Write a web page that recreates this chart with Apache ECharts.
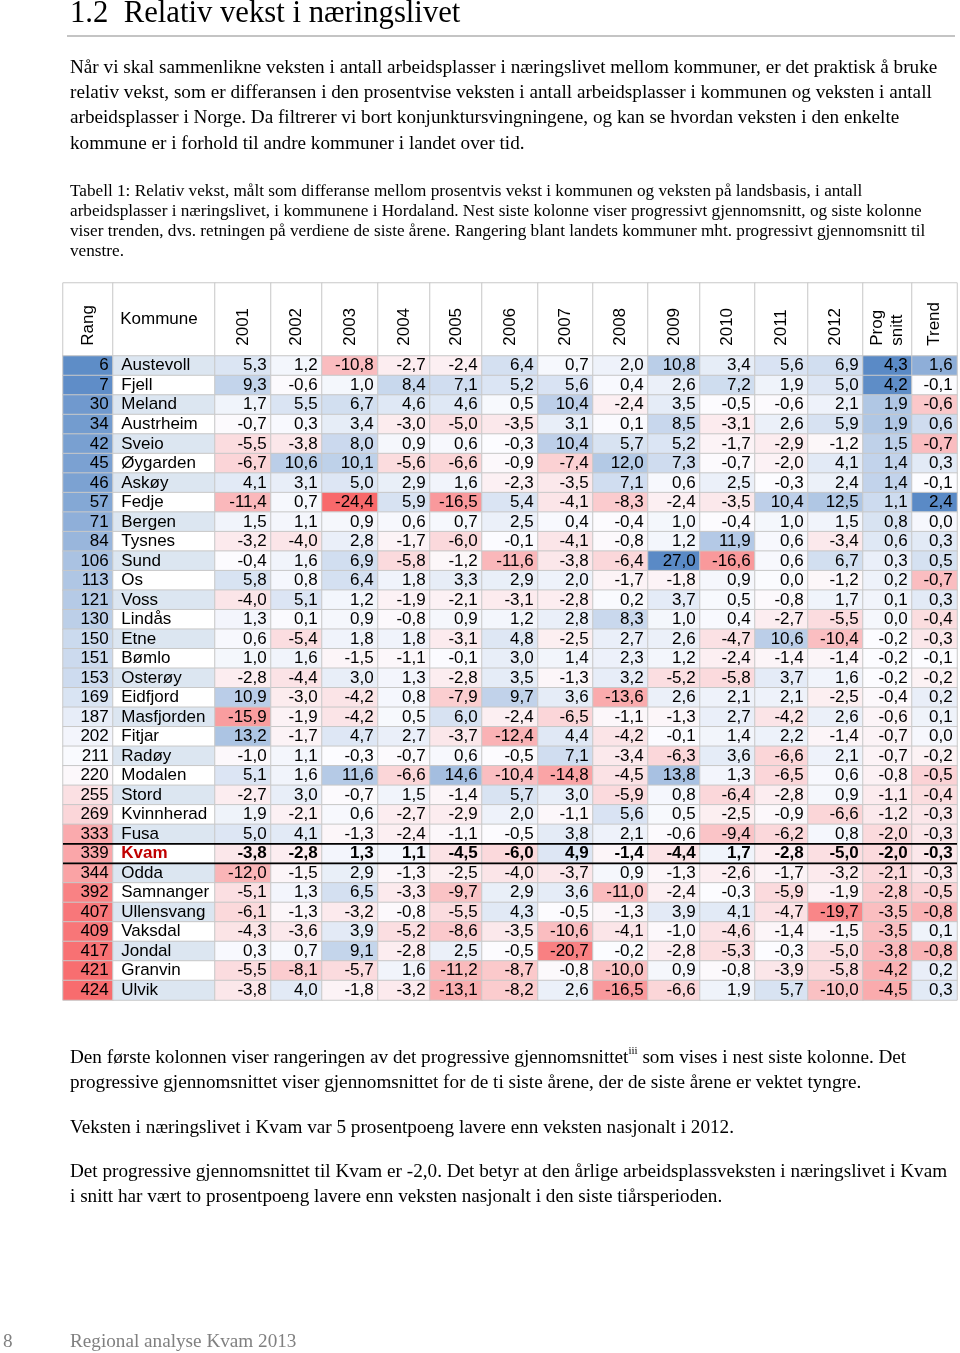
<!DOCTYPE html>
<html><head><meta charset="utf-8">
<script src="https://cdn.jsdelivr.net/npm/echarts@6/dist/echarts.min.js"></script>
<style>html,body{margin:0;padding:0;background:#fff}#c{width:960px;height:1353px}</style>
</head><body><div id="c"></div>
<script>
// ---------------- DATA ----------------
const kommuner = ['Austevoll','Fjell','Meland','Austrheim','Sveio','Øygarden','Askøy','Fedje','Bergen','Tysnes','Sund','Os','Voss','Lindås','Etne','Bømlo','Osterøy','Eidfjord','Masfjorden','Fitjar','Radøy','Modalen','Stord','Kvinnherad','Fusa','Kvam','Odda','Samnanger','Ullensvang','Vaksdal','Jondal','Granvin','Ulvik'];
const rang = [6,7,30,34,42,45,46,57,71,84,106,113,121,130,150,151,153,169,187,202,211,220,255,269,333,339,344,392,407,409,417,421,424];
const years = ['2001','2002','2003','2004','2005','2006','2007','2008','2009','2010','2011','2012'];
const v2001 = [5.3,9.3,1.7,-0.7,-5.5,-6.7,4.1,-11.4,1.5,-3.2,-0.4,5.8,-4.0,1.3,0.6,1.0,-2.8,10.9,-15.9,13.2,-1.0,5.1,-2.7,1.9,5.0,-3.8,-12.0,-5.1,-6.1,-4.3,0.3,-5.5,-3.8];
const v2002 = [1.2,-0.6,5.5,0.3,-3.8,10.6,3.1,0.7,1.1,-4.0,1.6,0.8,5.1,0.1,-5.4,1.6,-4.4,-3.0,-1.9,-1.7,1.1,1.6,3.0,-2.1,4.1,-2.8,-1.5,1.3,-1.3,-3.6,0.7,-8.1,4.0];
const v2003 = [-10.8,1.0,6.7,3.4,8.0,10.1,5.0,-24.4,0.9,2.8,6.9,6.4,1.2,0.9,1.8,-1.5,3.0,-4.2,-4.2,4.7,-0.3,11.6,-0.7,0.6,-1.3,1.3,2.9,6.5,-3.2,3.9,9.1,-5.7,-1.8];
const v2004 = [-2.7,8.4,4.6,-3.0,0.9,-5.6,2.9,5.9,0.6,-1.7,-5.8,1.8,-1.9,-0.8,1.8,-1.1,1.3,0.8,0.5,2.7,-0.7,-6.6,1.5,-2.7,-2.4,1.1,-1.3,-3.3,-0.8,-5.2,-2.8,1.6,-3.2];
const v2005 = [-2.4,7.1,4.6,-5.0,0.6,-6.6,1.6,-16.5,0.7,-6.0,-1.2,3.3,-2.1,0.9,-3.1,-0.1,-2.8,-7.9,6.0,-3.7,0.6,14.6,-1.4,-2.9,-1.1,-4.5,-2.5,-9.7,-5.5,-8.6,2.5,-11.2,-13.1];
const v2006 = [6.4,5.2,0.5,-3.5,-0.3,-0.9,-2.3,5.4,2.5,-0.1,-11.6,2.9,-3.1,1.2,4.8,3.0,3.5,9.7,-2.4,-12.4,-0.5,-10.4,5.7,2.0,-0.5,-6.0,-4.0,2.9,4.3,-3.5,-0.5,-8.7,-8.2];
const v2007 = [0.7,5.6,10.4,3.1,10.4,-7.4,-3.5,-4.1,0.4,-4.1,-3.8,2.0,-2.8,2.8,-2.5,1.4,-1.3,3.6,-6.5,4.4,7.1,-14.8,3.0,-1.1,3.8,4.9,-3.7,3.6,-0.5,-10.6,-20.7,-0.8,2.6];
const v2008 = [2.0,0.4,-2.4,0.1,5.7,12.0,7.1,-8.3,-0.4,-0.8,-6.4,-1.7,0.2,8.3,2.7,2.3,3.2,-13.6,-1.1,-4.2,-3.4,-4.5,-5.9,5.6,2.1,-1.4,0.9,-11.0,-1.3,-4.1,-0.2,-10.0,-16.5];
const v2009 = [10.8,2.6,3.5,8.5,5.2,7.3,0.6,-2.4,1.0,1.2,27.0,-1.8,3.7,1.0,2.6,1.2,-5.2,2.6,-1.3,-0.1,-6.3,13.8,0.8,0.5,-0.6,-4.4,-1.3,-2.4,3.9,-1.0,-2.8,0.9,-6.6];
const v2010 = [3.4,7.2,-0.5,-3.1,-1.7,-0.7,2.5,-3.5,-0.4,11.9,-16.6,0.9,0.5,0.4,-4.7,-2.4,-5.8,2.1,2.7,1.4,3.6,1.3,-6.4,-2.5,-9.4,1.7,-2.6,-0.3,4.1,-4.6,-5.3,-0.8,1.9];
const v2011 = [5.6,1.9,-0.6,2.6,-2.9,-2.0,-0.3,10.4,1.0,0.6,0.6,0.0,-0.8,-2.7,10.6,-1.4,3.7,2.1,-4.2,2.2,-6.6,-6.5,-2.8,-0.9,-6.2,-2.8,-1.7,-5.9,-4.7,-1.4,-0.3,-3.9,5.7];
const v2012 = [6.9,5.0,2.1,5.9,-1.2,4.1,2.4,12.5,1.5,-3.4,6.7,-1.2,1.7,-5.5,-10.4,-1.4,1.6,-2.5,2.6,-1.4,2.1,0.6,0.9,-6.6,0.8,-5.0,-3.2,-1.9,-19.7,-1.5,-5.0,-5.8,-10.0];
const progSnitt = [4.3,4.2,1.9,1.9,1.5,1.4,1.4,1.1,0.8,0.6,0.3,0.2,0.1,0.0,-0.2,-0.2,-0.2,-0.4,-0.6,-0.7,-0.7,-0.8,-1.1,-1.2,-2.0,-2.0,-2.1,-2.8,-3.5,-3.5,-3.8,-4.2,-4.5];
const trend = [1.6,-0.1,-0.6,0.6,-0.7,0.3,-0.1,2.4,0.0,0.3,0.5,-0.7,0.3,-0.4,-0.3,-0.1,-0.2,0.2,0.1,0.0,-0.2,-0.5,-0.4,-0.3,-0.3,-0.3,-0.3,-0.5,-0.8,0.1,-0.8,0.2,0.3];
const headers = ['Rang','Kommune'].concat(years, ['Prog\nsnitt','Trend']);
const antallKommuner = 428;
const uthevet = 'Kvam';

// ---------------- TEXT ----------------
const tittel = '1.2  Relativ vekst i næringslivet';
const ingress = [
 'Når vi skal sammenlikne veksten i antall arbeidsplasser i næringslivet mellom kommuner, er det praktisk å bruke',
 'relativ vekst, som er differansen i den prosentvise veksten i antall arbeidsplasser i kommunen og veksten i antall',
 'arbeidsplasser i Norge. Da filtrerer vi bort konjunktursvingningene, og kan se hvordan veksten i den enkelte',
 'kommune er i forhold til andre kommuner i landet over tid.'];
const tabelltekst = [
 'Tabell 1: Relativ vekst, målt som differanse mellom prosentvis vekst i kommunen og veksten på landsbasis, i antall',
 'arbeidsplasser i næringslivet, i kommunene i Hordaland. Nest siste kolonne viser progressivt gjennomsnitt, og siste kolonne',
 'viser trenden, dvs. retningen på verdiene de siste årene. Rangering blant landets kommuner mht. progressivt gjennomsnitt til',
 'venstre.'];
const etterTekst = [
 ['Den første kolonnen viser rangeringen av det progressive gjennomsnittet', 'iii', ' som vises i nest siste kolonne. Det'],
 ['progressive gjennomsnittet viser gjennomsnittet for de ti siste årene, der de siste årene er vektet tyngre.'],
 ['Veksten i næringslivet i Kvam var 5 prosentpoeng lavere enn veksten nasjonalt i 2012.'],
 ['Det progressive gjennomsnittet til Kvam er -2,0. Det betyr at den årlige arbeidsplassveksten i næringslivet i Kvam'],
 ['i snitt har vært to prosentpoeng lavere enn veksten nasjonalt i den siste tiårsperioden.']];
const sidetall = '8';
const bunntekst = 'Regional analyse Kvam 2013';

// ---------------- LAYOUT / STYLE ----------------
const colEdges = [63,113,215,271,322,378,430,482,538,593,648,700,755,808,863,912,957];
const headTop = 283, headH = 73, dataTop = 356, dataH = 644;
const SANS = '"Liberation Sans", Arial, sans-serif';
const SERIF = '"Liberation Serif", "Times New Roman", serif';
const gridLine = '#c8c8c8';
const stripe = '#DCE6F1';
const BODY = 19.2, CAP = 17.2;
// lower ends of the colour scales for the summary columns (national range, not all shown)
const progLav = -8, trendLav = -1.5;

const yearCols = [v2001,v2002,v2003,v2004,v2005,v2006,v2007,v2008,v2009,v2010,v2011,v2012];
function median(arr){const s=[...arr].sort((a,b)=>a-b);const n=s.length;return n%2?s[(n-1)/2]:(s[n/2-1]+s[n/2])/2;}
function scaleOf(arr, lo){return {lo: lo!=null?lo:Math.min(...arr), md:median(arr), hi:Math.max(...arr)};}
function pos(v, s){ if (v>=s.md) return s.hi===s.md?0:(v-s.md)/(s.hi-s.md); return s.md===s.lo?0:-(s.md-v)/(s.md-s.lo); }
const fmt = v => v.toFixed(1).replace('.', ',');
const yearScale = scaleOf([].concat(...yearCols));
const numericCols = yearCols.map(a=>({arr:a, sc:yearScale})).concat([{arr:progSnitt, sc:scaleOf(progSnitt, progLav)},{arr:trend, sc:scaleOf(trend, trendLav)}]);
const rankScale = {lo:1, md:(1+antallKommuner)/2, hi:antallKommuner};

const grids=[], xAxes=[], yAxes=[], series=[], valueSeries=[];
function addGrid(c, top, height, ycat){
  grids.push({left: colEdges[c], width: colEdges[c+1]-colEdges[c], top, height, containLabel:false});
  const gi = grids.length-1;
  xAxes.push({type:'category', gridIndex:gi, data:[headers[c]], show:false});
  yAxes.push({type:'category', gridIndex:gi, data:ycat, inverse:true, show:false});
  return gi;
}
const baseLabel = {show:true, fontFamily:SANS, fontSize:17, color:'#000'};
const baseItem = {borderColor:gridLine, borderWidth:1};
let kvGrid = null;

for (let c=0; c<headers.length; c++){
  const hg = addGrid(c, headTop, headH, ['h']);
  const isK = c===1;
  series.push({type:'heatmap', xAxisIndex:hg, yAxisIndex:hg, silent:true, emphasis:{disabled:true},
    data:[{value:[0,0,0], itemStyle:{color:'#fff'}}],
    itemStyle: baseItem,
    label: Object.assign({}, baseLabel, isK ? {position:'insideLeft', distance:8, formatter:headers[c]}
      : {position:'insideBottom', distance:11, rotate:90, align:'left', verticalAlign:'middle', lineHeight:20, formatter:headers[c]})
  });
  const dg = addGrid(c, dataTop, dataH, kommuner);
  if (c===2) kvGrid = dg;
  let data;
  if (c===0){
    data = rang.map((r,i)=>({value:[0,i,r,-pos(r,rankScale)]}));
  } else if (c===1){
    data = kommuner.map((k,i)=>{
      const it = {value:[0,i,0], name:k, itemStyle:{color: i%2===0 ? stripe : '#ffffff'}};
      if (k===uthevet) it.label = {fontWeight:'bold', color:'#C00000'};
      return it;
    });
  } else {
    const {arr, sc} = numericCols[c-2];
    data = arr.map((v,i)=>{
      const it = {value:[0,i,v,pos(v,sc)]};
      if (kommuner[i]===uthevet) it.label = {fontWeight:'bold'};
      return it;
    });
  }
  series.push({type:'heatmap', xAxisIndex:dg, yAxisIndex:dg, silent:true, emphasis:{disabled:true},
    data, itemStyle: baseItem,
    label: Object.assign({}, baseLabel, c===1
      ? {position:'insideLeft', distance:9, formatter: p=>p.name}
      : {position:'insideRight', distance:5, formatter: p=> c===0 ? String(p.value[2]) : fmt(p.value[2])})
  });
  if (c!==1) valueSeries.push(series.length-1);
}

const chart = echarts.init(document.getElementById('c'), null, {renderer:'canvas'});
chart.setOption({
  animation:false,
  backgroundColor:'#fff',
  grid:grids, xAxis:xAxes, yAxis:yAxes,
  visualMap:{type:'continuous', show:false, dimension:3, min:-1, max:1, seriesIndex:valueSeries,
    inRange:{color:['#F8696B','#FCFCFF','#5A8AC6']}},
  series
});

const kv = kommuner.indexOf(uthevet);
const pA = chart.convertToPixel({gridIndex:kvGrid}, [0, kv]);
const pB = chart.convertToPixel({gridIndex:kvGrid}, [0, kv+1]);
const half = (pB[1]-pA[1])/2;
const g = [];
function txt(x,y,text,size,fill,family){ g.push({type:'text', x, y, silent:true, style:{text, fontSize:size, fontFamily:family||SERIF, fill:fill||'#000', align:'left', verticalAlign:'middle'}}); }
txt(70, 14, tittel, 30.7, '#000');
g.push({type:'line', silent:true, shape:{x1:67,y1:36,x2:955,y2:36}, style:{stroke:'#b0b0b0', lineWidth:1.5}});
ingress.forEach((l,i)=>txt(70, 68+i*25.2, l, BODY));
tabelltekst.forEach((l,i)=>txt(70, 191+i*20, l, CAP));
const ys = [1058,1083,1128,1172,1197];
etterTekst.forEach((parts,i)=>{
  if (parts.length===1) { txt(70, ys[i], parts[0], BODY); return; }
  g.push({type:'text', x:70, y:ys[i], silent:true, style:{
    text:'{a|'+parts[0]+'}{s|'+parts[1]+'}{a|'+parts[2]+'}', align:'left', verticalAlign:'middle',
    rich:{a:{fontSize:BODY, fontFamily:SERIF, fill:'#000', lineHeight:24}, s:{fontSize:11, fontFamily:SERIF, fill:'#000', verticalAlign:'top', lineHeight:11}}}});
});
txt(3, 1342, sidetall, BODY, '#808080');
txt(70, 1342, bunntekst, BODY, '#808080');
[pA[1]-half, pA[1]+half].forEach(y=>{
  g.push({type:'line', silent:true, z:100, shape:{x1:colEdges[0], y1:y, x2:colEdges[colEdges.length-1], y2:y}, style:{stroke:'#000', lineWidth:1.6}});
});
chart.setOption({graphic: g});
</script></body></html>
